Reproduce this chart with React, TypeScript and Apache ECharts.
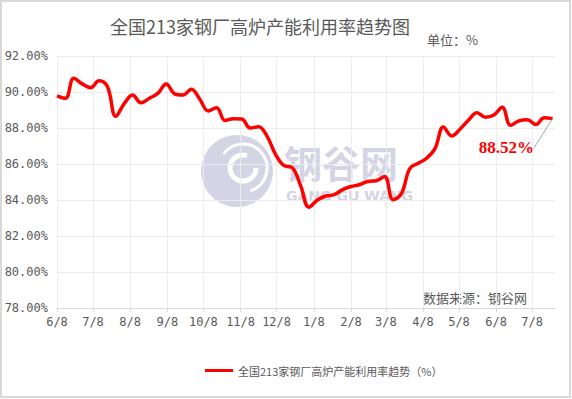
import React, { useEffect, useRef } from "react";
import * as echarts from "echarts";

// ---- data ----
const START_YEAR = 2023;
const START_MONTH = 6; // June
const START_DAY = 8;
const TOTAL_DAYS = 415; // axis spans 2023-06-08 .. 2024-07-27
const WEEK_STEP = 7;
const TICK_DAY_OF_MONTH = 8;

const weeklyValues: number[] = [
  89.79, 89.65, 90.76, 90.45, 90.24, 90.62, 90.3, 88.65, 89.35, 89.83,
  89.4, 89.65, 89.92, 90.45, 89.9, 89.83, 90.15, 89.6, 88.95, 89.13,
  88.42, 88.52, 88.5, 88.0, 88.07, 87.55, 86.55, 85.92, 85.8, 84.8,
  83.6, 84.0, 84.22, 84.3, 84.58, 84.75, 84.85, 85.03, 85.07, 85.3,
  84.02, 84.35, 85.75, 86.04, 86.32, 86.85, 88.05, 87.56, 87.95, 88.45,
  88.85, 88.6, 88.72, 89.15, 88.15, 88.4, 88.46, 88.2, 88.57, 88.52,
];

const yTicks = { min: 78, max: 92, interval: 2 };
const titleText = "全国213家钢厂高炉产能利用率趋势图";
const seriesName = "全国213家钢厂高炉产能利用率趋势（%）";
const unitText = "单位：%";
const sourceText = "数据来源：钢谷网";

function dayKey(offset: number): string {
  const d = new Date(START_YEAR, START_MONTH - 1, START_DAY + offset);
  return `${d.getFullYear()}-${d.getMonth() + 1}-${d.getDate()}`;
}

const categories: string[] = [];
for (let i = 0; i <= TOTAL_DAYS; i++) categories.push(dayKey(i));

const lineData = weeklyValues.map((v, i) => [dayKey(i * WEEK_STEP), v]);
const lastIndex = weeklyValues.length - 1;
const lastPoint = [[dayKey(lastIndex * WEEK_STEP), weeklyValues[lastIndex]]];

const isTickDay = (_i: number, v: string) =>
  Number(String(v).split("-")[2]) === TICK_DAY_OF_MONTH;

export default function App() {
  const ref = useRef<HTMLDivElement>(null);
  useEffect(() => {
    if (!ref.current) return;
    const chart = echarts.init(ref.current, null, { renderer: "svg" });
    const grey = "#595959";
    const mark = "#d4d4e4";
    chart.setOption({
      animation: false,
      backgroundColor: "#ffffff",
      title: {
        text: titleText,
        left: 255,
        textAlign: "center",
        top: 12,
        textStyle: {
          fontSize: 18,
          fontWeight: "normal",
          color: grey,
          fontFamily: "Noto Sans CJK SC, sans-serif",
        },
      },
      grid: { left: 57, right: 17, top: 56, bottom: 91, containLabel: false },
      legend: {
        bottom: 18,
        left: 200,
        icon: "rect",
        itemWidth: 28,
        itemHeight: 3,
        itemGap: 6,
        textStyle: {
          fontSize: 11,
          color: grey,
          fontFamily: "Noto Sans CJK SC, sans-serif",
        },
        data: [seriesName],
      },
      xAxis: {
        type: "category",
        boundaryGap: false,
        data: categories,
        axisLine: { lineStyle: { color: "#d9d9d9" } },
        axisTick: { show: true, interval: isTickDay, length: 4, lineStyle: { color: "#d9d9d9" } },
        splitLine: { show: true, interval: isTickDay, lineStyle: { color: "#ececec" } },
        axisLabel: {
          interval: isTickDay,
          formatter: (v: string) => {
            const p = v.split("-");
            return `${p[1]}/${p[2]}`;
          },
          color: grey,
          fontSize: 12,
          margin: 8,
          fontFamily: "DejaVu Sans Mono, monospace",
        },
      },
      yAxis: {
        type: "value",
        min: yTicks.min,
        max: yTicks.max,
        interval: yTicks.interval,
        axisLine: { show: false },
        axisTick: { show: false },
        splitLine: { lineStyle: { color: "#ececec" } },
        axisLabel: {
          formatter: (v: number) => v.toFixed(2) + "%",
          color: grey,
          fontSize: 12,
          margin: 9,
          fontFamily: "DejaVu Sans Mono, monospace",
        },
      },
      graphic: [
        {
          type: "rect",
          silent: true,
          shape: { x: 1, y: 1, width: 569, height: 396 },
          style: { fill: "none", stroke: "#d9d9d9", lineWidth: 2 },
          z: -10,
        },
        {
          type: "group",
          silent: true,
          z: -5,
          children: [
            { type: "circle", shape: { cx: 237, cy: 171, r: 36 }, style: { fill: mark } },
            {
              type: "arc",
              shape: { cx: 243, cy: 168, r: 13, startAngle: 0, endAngle: Math.PI * 1.6 },
              style: { stroke: "#ffffff", lineWidth: 5, fill: "none" },
            },
            {
              type: "arc",
              shape: { cx: 243, cy: 168, r: 24, startAngle: Math.PI * 1.2, endAngle: Math.PI * 0.4 },
              style: { stroke: "#ffffff", lineWidth: 3, fill: "none" },
            },
            {
              type: "text",
              x: 284,
              y: 161,
              style: {
                text: "钢谷网",
                fontSize: 38,
                fontWeight: "bold",
                fill: mark,
                verticalAlign: "middle",
                fontFamily: "Noto Sans CJK SC, sans-serif",
              },
            },
            {
              type: "text",
              x: 286,
              y: 196,
              style: {
                text: "GANG GU WANG",
                fontSize: 14,
                fontWeight: "bold",
                fill: mark,
                verticalAlign: "middle",
                fontFamily: "DejaVu Sans, sans-serif",
              },
            },
          ],
        },
        {
          type: "text",
          x: 478,
          y: 39,
          style: {
            text: unitText,
            fontSize: 13,
            fill: grey,
            align: "right",
            verticalAlign: "middle",
            fontFamily: "Noto Sans CJK SC, sans-serif",
          },
        },
        {
          type: "text",
          x: 527,
          y: 297,
          style: {
            text: sourceText,
            fontSize: 13,
            fill: grey,
            align: "right",
            verticalAlign: "middle",
            fontFamily: "Noto Sans CJK SC, sans-serif",
          },
        },
      ],
      series: [
        {
          name: seriesName,
          type: "line",
          data: lineData,
          smooth: 0.4,
          showSymbol: false,
          symbol: "none",
          lineStyle: { color: "#ff0000", width: 3.5 },
          itemStyle: { color: "#ff0000" },
          z: 3,
        },
        {
          name: "latest",
          type: "scatter",
          data: lastPoint,
          symbolSize: 1,
          itemStyle: { color: "rgba(255,0,0,0)" },
          label: {
            show: true,
            position: "left",
            distance: 4,
            formatter: (p: any) => p.value[1].toFixed(2) + "%",
            color: "#ff0000",
            opacity: 1,
            fontSize: 17,
            fontWeight: "bold",
            fontFamily: "Liberation Serif, DejaVu Serif, serif",
          },
          labelLine: { show: true, lineStyle: { color: "#a6a6a6", width: 1 } },
          labelLayout: { dx: -14, dy: 29 },
          z: 4,
        },
      ],
    });
    return () => chart.dispose();
  }, []);
  return (
    <div
      ref={ref}
      style={{ position: "absolute", left: 0, top: 0, width: 572, height: 399 }}
    />
  );
}
